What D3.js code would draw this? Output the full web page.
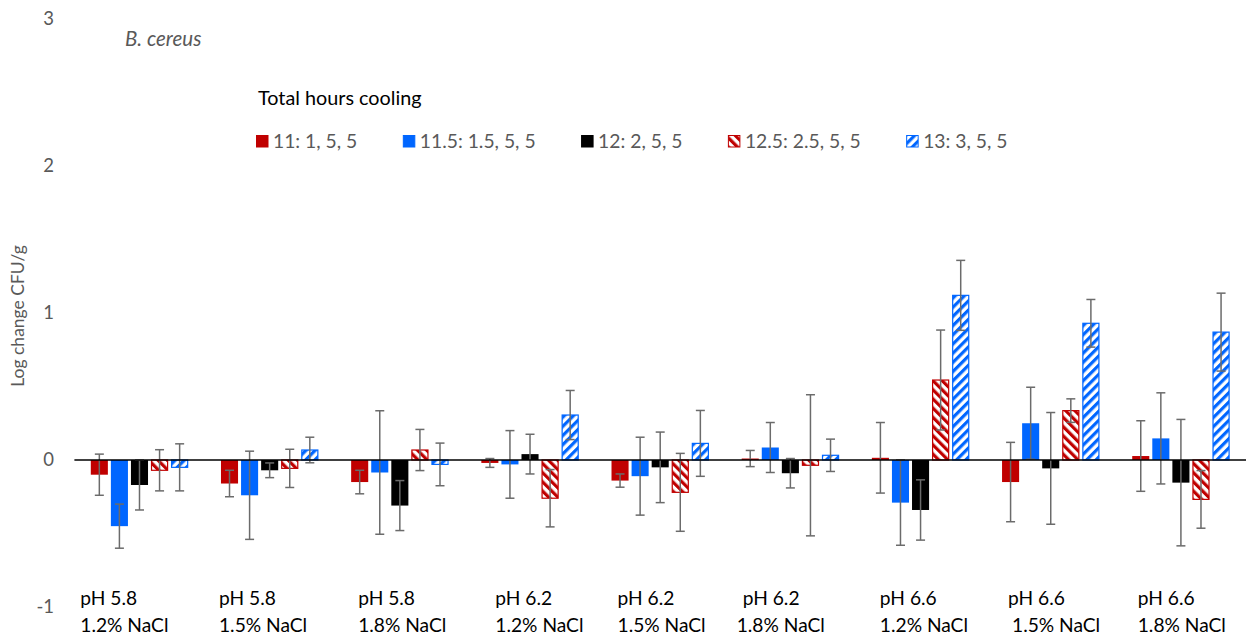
<!DOCTYPE html>
<html><head><meta charset="utf-8">
<script src="https://cdn.jsdelivr.net/npm/d3@7"></script>
<style>
body{margin:0;background:#fff;}
svg{display:block;font-family:Lato,"Open Sans",sans-serif;}
</style></head>
<body><svg id="c" width="1246" height="635"></svg>
<script>
// ---- data ----
const phLabels   = ["pH 5.8","pH 5.8","pH 5.8","pH 6.2","pH 6.2","pH 6.2","pH 6.6","pH 6.6","pH 6.6"];
const naclLabels = ["1.2% NaCl","1.5% NaCl","1.8% NaCl","1.2% NaCl","1.5% NaCl","1.8% NaCl","1.2% NaCl","1.5% NaCl","1.8% NaCl"];
const seriesNames = ["11: 1, 5, 5","11.5: 1.5, 5, 5","12: 2, 5, 5","12.5: 2.5, 5, 5","13: 3, 5, 5"];
const v11  = [-0.10,-0.16,-0.15,-0.02,-0.14, 0.01, 0.015,-0.15, 0.027];
const e11  = [ 0.14, 0.09, 0.08, 0.03, 0.045,0.055,0.24, 0.27, 0.24];
const v115 = [-0.45,-0.24,-0.085,-0.03,-0.11,0.085,-0.29, 0.25, 0.147];
const e115 = [ 0.15, 0.30, 0.42, 0.23, 0.265,0.17, 0.29, 0.245,0.31];
const v12  = [-0.17,-0.07,-0.31, 0.04,-0.05,-0.09,-0.34,-0.057,-0.154];
const e12  = [ 0.17, 0.05, 0.17, 0.135,0.24, 0.10, 0.205,0.38, 0.43];
const v125 = [-0.07,-0.057,0.068,-0.26,-0.22,-0.036,0.544,0.336,-0.268];
const e125 = [ 0.14, 0.13, 0.14, 0.195,0.265,0.48, 0.34, 0.08, 0.196];
const v13  = [-0.05, 0.068,-0.03, 0.306,0.113,0.032,1.12, 0.93, 0.87];
const e13  = [ 0.16, 0.087,0.145,0.167,0.224,0.11, 0.238,0.162,0.265];
const yTicks = [-1,0,1,2,3];

const values = [v11,v115,v12,v125,v13];
const errors = [e11,e115,e12,e125,e13];

// ---- layout / style ----
const plotL=74.4, plotR=1246, yTop=19, yBot=607;
const fills = ["#C00000","#0066FF","#000000","url(#hatchRed)","url(#hatchBlue)"];
const strokes = ["none","none","none","#C00000","#0066FF"];
const line1Dx=[-10.5,-2,7,14,6,1,8,6,5.5];
const line2Dx=[-10.5,-2,7,14,6,-5,8,10,5.5];

const svg=d3.select("#c");
const defs=svg.append("defs");
function hatch(id,color,angle){
  const p=defs.append("pattern").attr("id",id).attr("patternUnits","userSpaceOnUse")
    .attr("width",6.5).attr("height",6.5).attr("patternTransform",`rotate(${angle})`);
  p.append("rect").attr("width",6.5).attr("height",6.5).attr("fill","#fff");
  p.append("rect").attr("x",0).attr("y",0).attr("width",3.2).attr("height",6.5).attr("fill",color);
}
hatch("hatchRed","#C00000",-45);
hatch("hatchBlue","#0066FF",45);

const idx=d3.range(phLabels.length);
const x0=d3.scaleBand().domain(idx).range([plotL,plotR]).paddingInner(0.252).paddingOuter(0.126);
const x1=d3.scaleBand().domain(d3.range(seriesNames.length)).range([0,x0.bandwidth()]).paddingInner(0.15);
const y=d3.scaleLinear().domain([-1,3]).range([yBot,yTop]);

// y tick labels
const yAxis=d3.axisLeft(y).tickValues(yTicks).tickSize(0).tickPadding(0).tickFormat(d=>String(d));
const ya=svg.append("g").attr("transform","translate(54,0)").call(yAxis);
ya.select(".domain").remove();
ya.selectAll("text").attr("fill","#595959").style("font-size","18.5px").style("font-family","Lato,sans-serif");

// bars
const groups=svg.append("g").selectAll("g").data(idx).join("g")
  .attr("transform",i=>`translate(${x0(i)},0)`);
groups.selectAll("rect").data(i=>values.map((s,k)=>({k,v:s[i],e:errors[k][i]}))).join("rect")
  .attr("x",d=>x1(d.k)+(d.k>=3?0.5:0)).attr("width",d=>x1.bandwidth()-(d.k>=3?1:0))
  .attr("y",d=>y(Math.max(0,d.v))).attr("height",d=>Math.abs(y(d.v)-y(0)))
  .attr("fill",d=>fills[d.k]).attr("stroke",d=>strokes[d.k]).attr("stroke-width",1.2);

// zero line
svg.append("line").attr("x1",plotL).attr("x2",plotR).attr("y1",y(0)).attr("y2",y(0))
  .attr("stroke","#000").attr("stroke-width",1.5);

// error bars
const eb=groups.selectAll("g.eb").data(i=>values.map((s,k)=>({k,v:s[i],e:errors[k][i]}))).join("g").attr("class","eb")
  .attr("stroke","#6b6b6b").attr("stroke-width",1.5);
eb.append("line").attr("x1",d=>x1(d.k)+x1.bandwidth()/2).attr("x2",d=>x1(d.k)+x1.bandwidth()/2)
  .attr("y1",d=>y(d.v+d.e)).attr("y2",d=>y(d.v-d.e));
[1,-1].forEach(sg=>{
  eb.append("line").attr("x1",d=>x1(d.k)+x1.bandwidth()/2-4.5).attr("x2",d=>x1(d.k)+x1.bandwidth()/2+4.5)
    .attr("y1",d=>y(d.v+sg*d.e)).attr("y2",d=>y(d.v+sg*d.e));
});

// category labels
const cl=svg.append("g").style("font-size","19.2px").attr("fill","#000");
cl.selectAll("text.l1").data(idx).join("text").attr("class","l1")
  .attr("x",i=>x0(i)+line1Dx[i]).attr("y",605).text(i=>phLabels[i]);
cl.selectAll("text.l2").data(idx).join("text").attr("class","l2")
  .attr("x",i=>x0(i)+line2Dx[i]).attr("y",632).text(i=>naclLabels[i]);

// y axis title
svg.append("text").attr("transform","translate(24,316) rotate(-90)").attr("text-anchor","middle")
  .attr("fill","#595959").style("font-size","17.5px").text("Log change CFU/g");

// title
svg.append("text").attr("x",125).attr("y",46).attr("fill","#595959").style("font-size","20.5px")
  .style("font-style","italic").text("B. cereus");
svg.append("text").attr("x",258).attr("y",105).attr("fill","#000").style("font-size","19.8px")
  .text("Total hours cooling");

// legend
const lg=svg.append("g");
let lx=256;
seriesNames.forEach((n,k)=>{
  lg.append("rect").attr("x",lx+0.5).attr("y",135.5).attr("width",11.5).attr("height",11.5)
    .attr("fill",fills[k]).attr("stroke",k>=3?strokes[k]:fills[k]).attr("stroke-width",1);
  const t=lg.append("text").attr("x",lx+17).attr("y",147.5).attr("fill","#595959").style("font-size","19.3px").text(n);
  lx+=17+t.node().getComputedTextLength()+45.5;
});
</script></body></html>
